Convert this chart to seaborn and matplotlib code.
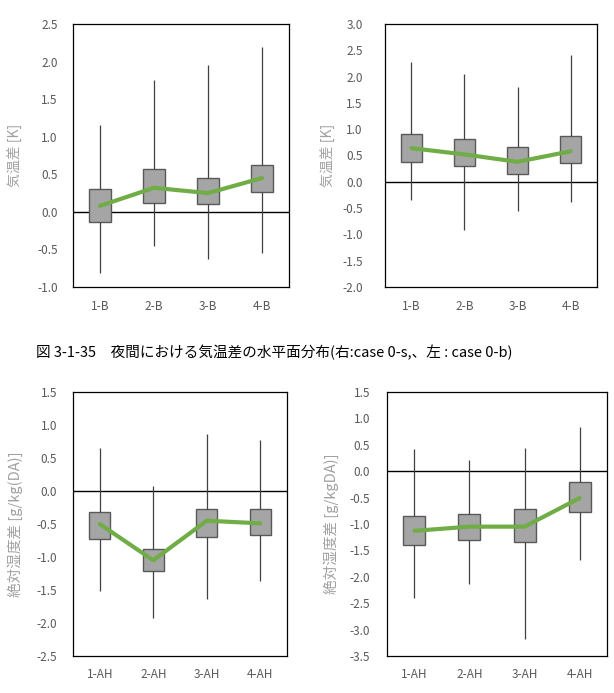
import matplotlib
matplotlib.use("Agg")
import matplotlib.pyplot as plt
import seaborn as sns
import numpy as np
import pandas as pd

# categories
cats_b = ['1-B', '2-B', '3-B', '4-B']
cats_ah = ['1-AH', '2-AH', '3-AH', '4-AH']

# top-left (air temperature difference, case 0-b)
tl_lo = [-0.82, -0.45, -0.63, -0.55]
tl_q1 = [-0.13, 0.12, 0.10, 0.27]
tl_mid = [0.08, 0.32, 0.25, 0.45]
tl_q3 = [0.30, 0.57, 0.45, 0.63]
tl_hi = [1.15, 1.75, 1.95, 2.20]

# top-right (air temperature difference, case 0-s)
tr_lo = [-0.34, -0.91, -0.56, -0.39]
tr_q1 = [0.37, 0.30, 0.15, 0.35]
tr_mid = [0.64, 0.52, 0.38, 0.58]
tr_q3 = [0.91, 0.81, 0.67, 0.87]
tr_hi = [2.28, 2.04, 1.81, 2.42]

# bottom-left (absolute humidity difference)
bl_lo = [-1.51, -1.92, -1.64, -1.36]
bl_q1 = [-0.72, -1.21, -0.70, -0.67]
bl_mid = [-0.50, -1.05, -0.45, -0.49]
bl_q3 = [-0.32, -0.88, -0.27, -0.28]
bl_hi = [0.65, 0.07, 0.87, 0.77]

# bottom-right (absolute humidity difference)
br_lo = [-2.41, -2.14, -3.17, -1.68]
br_q1 = [-1.39, -1.30, -1.35, -0.77]
br_mid = [-1.13, -1.05, -1.05, -0.51]
br_q3 = [-0.84, -0.82, -0.72, -0.20]
br_hi = [0.42, 0.22, 0.43, 0.84]

caption = '図 3-1-35　夜間における気温差の水平面分布(右:case 0-s,、左 : case 0-b)'

sns.set_style('white')
plt.rcParams['font.family'] = ['Noto Sans CJK JP', 'DejaVu Sans']

W, H = 614, 693
fig = plt.figure(figsize=(W / 100, H / 100), dpi=100)


def px_axes(x0, y0, x1, y1):
    return fig.add_axes([x0 / W, 1 - y1 / H, (x1 - x0) / W, (y1 - y0) / H])


def panel(ax, cats, lo, q1, mid, q3, hi, ylim, ystep, ylabel, pad, labx, labsize):
    rows = []
    for i, c in enumerate(cats):
        for v in (lo[i], q1[i], mid[i], q3[i], hi[i]):
            rows.append({'cat': c, 'val': v})
    df = pd.DataFrame(rows)
    sns.boxplot(data=df, x='cat', y='val', order=cats, ax=ax, whis=(0, 100),
                width=0.4, color='#a5a5a5', saturation=1, linecolor='#595959',
                linewidth=1, showcaps=False, showfliers=False,
                medianprops=dict(linewidth=0),
                whiskerprops=dict(color='#404040', linewidth=0.9))
    sns.pointplot(x=cats, y=mid, order=cats, ax=ax, color='#70ad47',
                  markers='', linewidth=3, errorbar=None)
    ax.axhline(0, color='black', linewidth=1, zorder=1)
    ax.set_xlim(-0.5, len(cats) - 0.5)
    ax.set_ylim(*ylim)
    ax.set_yticks(np.arange(ylim[0], ylim[1] + 1e-9, ystep))
    ax.yaxis.set_major_formatter(matplotlib.ticker.FormatStrFormatter('%.1f'))
    ax.tick_params(length=0, labelsize=8.5, labelcolor='#595959')
    ax.tick_params(axis='y', pad=pad)
    ax.tick_params(axis='x', pad=9)
    ax.set_xlabel('')
    ax.set_ylabel(ylabel, color='#a0a0a0', fontsize=labsize)
    ax.yaxis.set_label_coords(labx, 0.5)
    for s in ax.spines.values():
        s.set_color('black')
        s.set_linewidth(0.9)


ax1 = px_axes(73, 24, 289, 287)
panel(ax1, cats_b, tl_lo, tl_q1, tl_mid, tl_q3, tl_hi, (-1.0, 2.5), 0.5,
      '気温差 [K]', 11, -0.23, 10)

ax2 = px_axes(385, 24, 597, 287)
panel(ax2, cats_b, tr_lo, tr_q1, tr_mid, tr_q3, tr_hi, (-2.0, 3.0), 0.5,
      '気温差 [K]', 16, -0.23, 10)

ax3 = px_axes(73, 392, 287, 656)
panel(ax3, cats_ah, bl_lo, bl_q1, bl_mid, bl_q3, bl_hi, (-2.5, 1.5), 0.5,
      '絶対湿度差 [g/kg(DA)]', 11.5, -0.234, 10.5)

ax4 = px_axes(387, 392, 607, 656)
panel(ax4, cats_ah, br_lo, br_q1, br_mid, br_q3, br_hi, (-3.5, 1.5), 0.5,
      '絶対湿度差 [g/kgDA)]', 12, -0.218, 10.5)

fig.text(274 / W, 1 - 352 / H, caption, ha='center', va='center', fontsize=10.5,
         color='black')

fig.savefig('out.png', dpi=100)
